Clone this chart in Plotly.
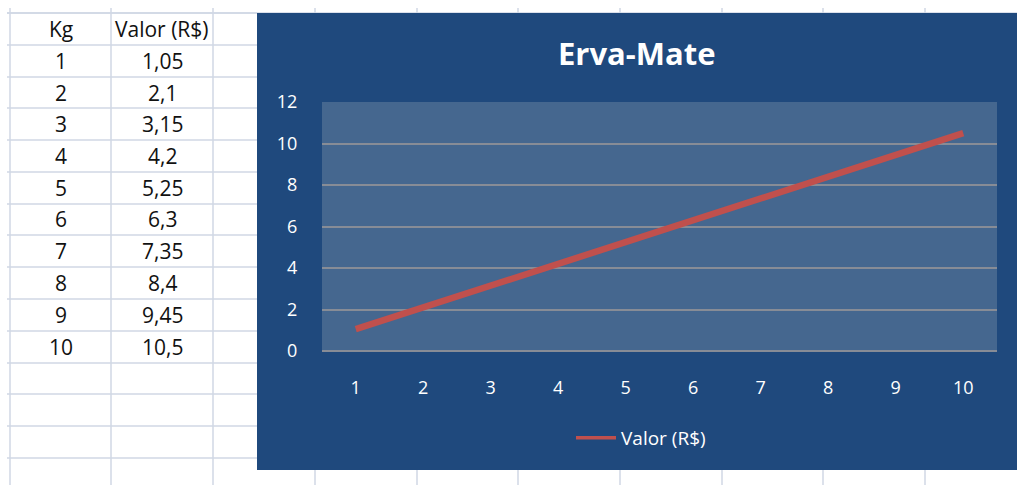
import plotly.graph_objects as go

# ---- data ----
kg = [1, 2, 3, 4, 5, 6, 7, 8, 9, 10]
valor = [1.05, 2.1, 3.15, 4.2, 5.25, 6.3, 7.35, 8.4, 9.45, 10.5]
col_headers = ["Kg", "Valor (R$)"]
title_text = "Erva-Mate"
series_name = "Valor (R$)"
y_ticks = [0, 2, 4, 6, 8, 10, 12]

W, H = 1017, 485
FONT = "Open Sans"


def px(x):
    return x / W


def py(y):
    return 1 - y / H


GRID = "#D0D7E5"
CHART_BG = "#1F497D"
PLOT_BG = "#45678F"
RED = "#C0504D"

shapes = []
# spreadsheet grid: horizontal row lines (left of chart)
row_lines = [13, 45, 77, 108, 140, 172, 204, 235, 267, 299, 331, 363, 394, 426, 458]
for yy in row_lines:
    shapes.append(dict(type="line", xref="paper", yref="paper",
                       x0=px(7), x1=px(257), y0=py(yy), y1=py(yy),
                       line=dict(color=GRID, width=1.5), layer="below"))
# top line across the whole sheet
shapes.append(dict(type="line", xref="paper", yref="paper",
                   x0=px(7), x1=px(W), y0=py(13), y1=py(13),
                   line=dict(color=GRID, width=1.5), layer="below"))
# vertical column lines
col_lines = [10, 111, 213, 315, 417, 518, 620, 722, 823, 925]
for xx in col_lines:
    shapes.append(dict(type="line", xref="paper", yref="paper",
                       x0=px(xx), x1=px(xx), y0=py(8), y1=py(H),
                       line=dict(color=GRID, width=1.5), layer="below"))
# chart area background
shapes.append(dict(type="rect", xref="paper", yref="paper",
                   x0=px(257), x1=1.0, y0=py(470), y1=py(13),
                   fillcolor=CHART_BG, line=dict(width=0), layer="below"))
# plot area background
shapes.append(dict(type="rect", xref="x domain", yref="y domain",
                   x0=0, x1=1, y0=0, y1=1,
                   fillcolor=PLOT_BG, line=dict(width=0), layer="below"))

annotations = []
# table text
col_centers = [61, 162]
row_centers = [(row_lines[i] + row_lines[i + 1]) / 2 for i in range(len(row_lines) - 1)]
for c, htxt in enumerate(col_headers):
    annotations.append(dict(x=px(col_centers[c]), y=py(row_centers[0]), xref="paper", yref="paper",
                            text=htxt, showarrow=False, xanchor="center", yanchor="middle",
                            font=dict(family=FONT, size=21, color="#111111")))
for i, (k, v) in enumerate(zip(kg, valor)):
    vtxt = ("%g" % v).replace(".", ",")
    for c, t in enumerate([str(k), vtxt]):
        annotations.append(dict(x=px(col_centers[c]), y=py(row_centers[i + 1]), xref="paper", yref="paper",
                                text=t, showarrow=False, xanchor="center", yanchor="middle",
                                font=dict(family=FONT, size=21, color="#111111")))
# chart title
annotations.append(dict(x=px(637), y=py(53), xref="paper", yref="paper",
                        text="<b>%s</b>" % title_text, showarrow=False,
                        xanchor="center", yanchor="middle",
                        font=dict(family=FONT, size=31, color="#FFFFFF")))

fig = go.Figure()
fig.add_trace(go.Scatter(x=kg, y=valor, mode="lines", name=series_name,
                         showlegend=False, line=dict(color=RED, width=6.5)))
# legend entry (thinner sample line, as in the original legend)
fig.add_trace(go.Scatter(x=[None], y=[None], mode="lines", name=series_name,
                         showlegend=True, line=dict(color=RED, width=3.5)))

fig.update_layout(
    width=W, height=H,
    margin=dict(l=0, r=0, t=0, b=0, pad=0, autoexpand=False),
    paper_bgcolor="#FFFFFF",
    plot_bgcolor="rgba(0,0,0,0)",
    shapes=shapes,
    annotations=annotations,
    showlegend=True,
    legend=dict(orientation="h", x=px(641), y=py(438), xanchor="center", yanchor="middle",
                itemwidth=40, bgcolor="rgba(0,0,0,0)",
                font=dict(family=FONT, size=19, color="#FFFFFF")),
    xaxis=dict(domain=[px(322), px(997)], range=[0.5, 10.5], tickmode="array",
               tickvals=kg, ticktext=[str(k) for k in kg], showgrid=False, zeroline=False,
               showline=False, ticks="outside", ticklen=20, tickcolor="rgba(0,0,0,0)",
               automargin=False,
               tickfont=dict(family=FONT, size=18, color="#FFFFFF"), fixedrange=True),
    yaxis=dict(domain=[py(351), py(102)], range=[0, 12], tickmode="array",
               tickvals=y_ticks, showgrid=True, gridcolor="#878C96", gridwidth=1.5,
               zeroline=True, zerolinecolor="#878C96", zerolinewidth=1.5,
               showline=False, ticks="outside", ticklen=20, tickcolor="rgba(0,0,0,0)",
               automargin=False,
               tickfont=dict(family=FONT, size=18, color="#FFFFFF"), fixedrange=True),
)

fig.write_html("out.html", config={"responsive": False, "displayModeBar": False},
               post_script="document.body.style.margin='0';document.body.style.overflow='hidden';")
